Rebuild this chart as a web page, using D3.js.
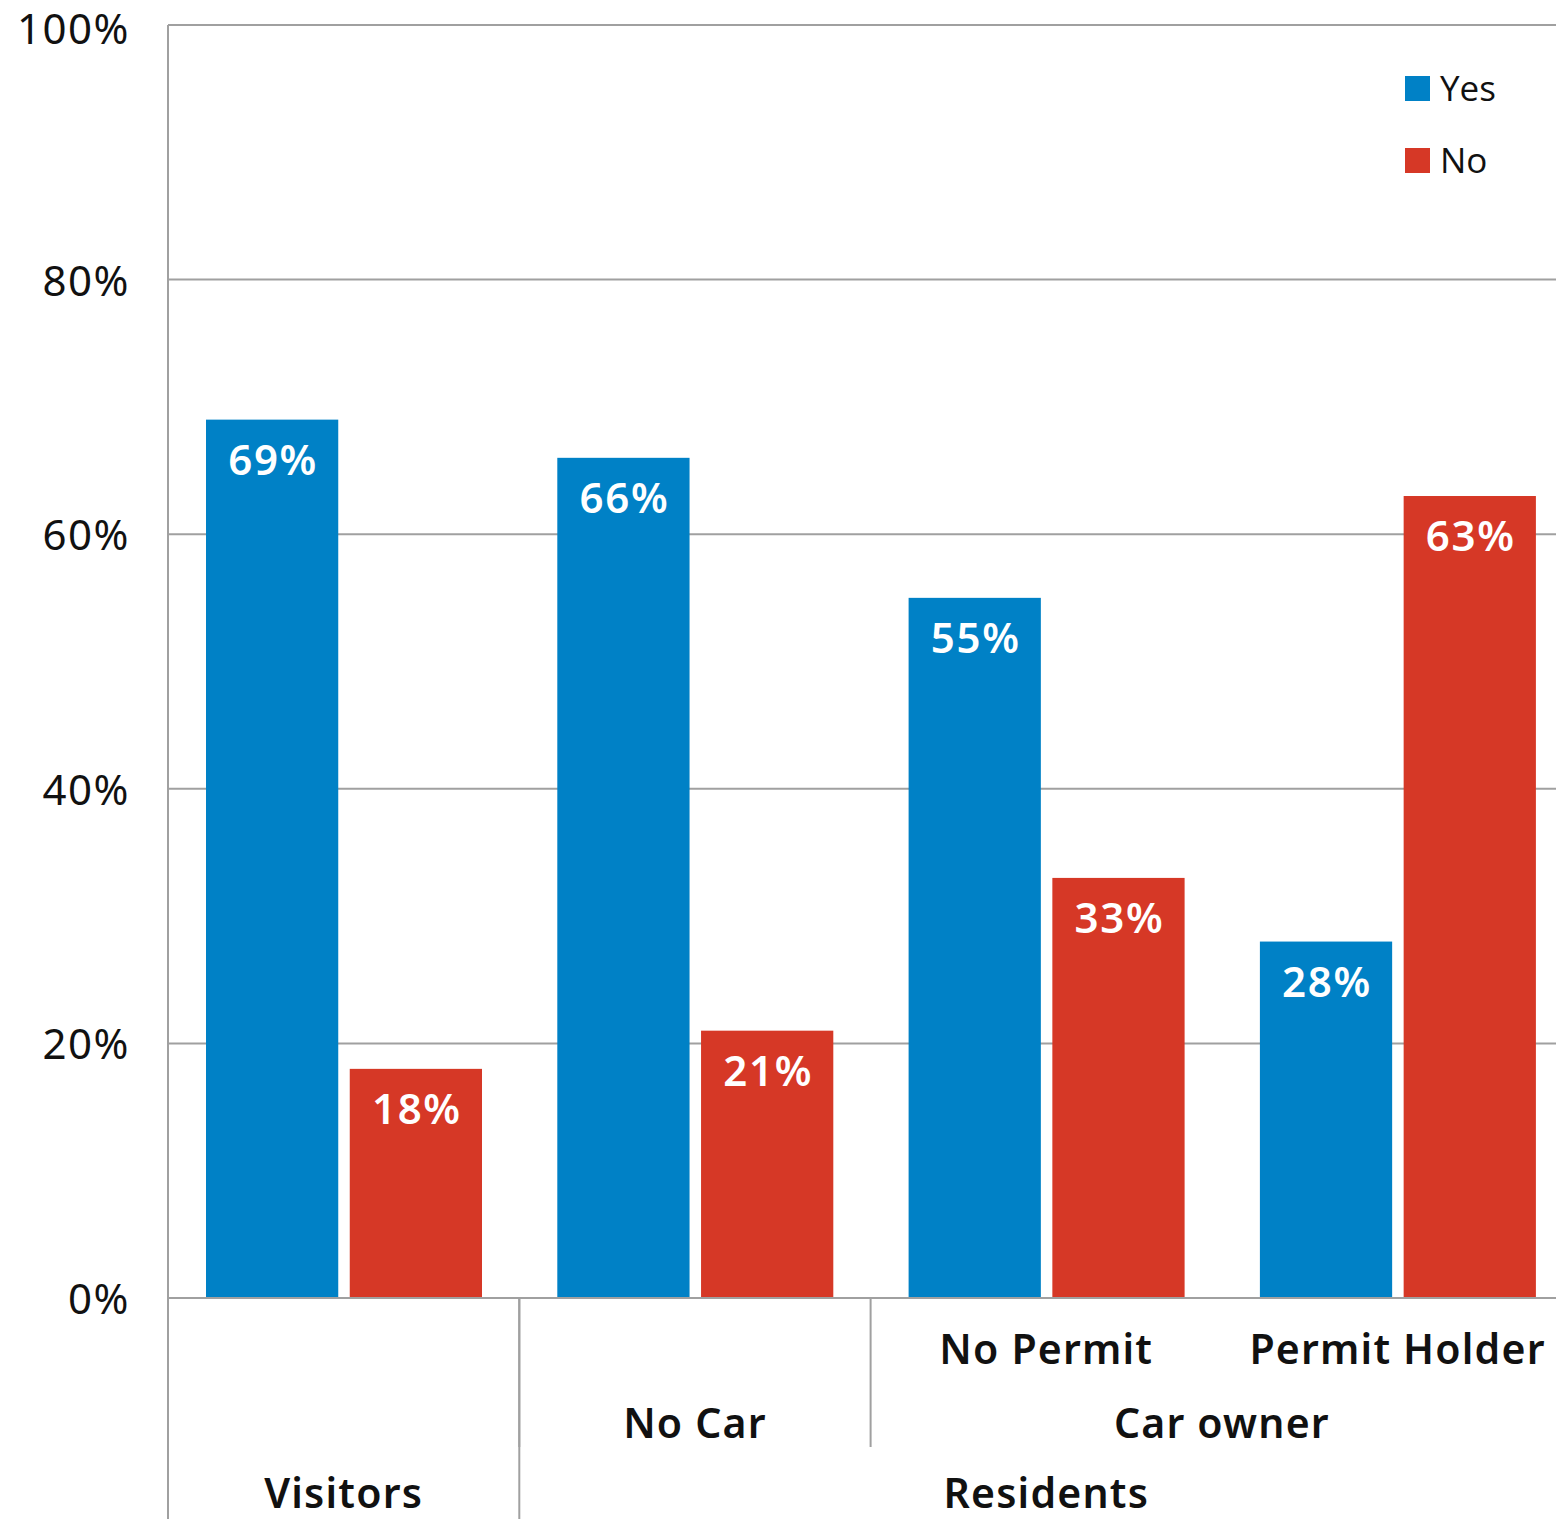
<!DOCTYPE html>
<html>
<head>
<meta charset="utf-8">
<script src="https://cdn.jsdelivr.net/npm/d3@7"></script>
<style>
  body { margin: 0; background: #fff; }
  svg { display: block; }
  .grid line { stroke: #a0a0a0; stroke-width: 2; }
  .tick-label { font-family: "Noto Sans", sans-serif; font-size: 42px; letter-spacing: 1.5px; fill: #111; }
  .bar-label { font-family: "Noto Sans", sans-serif; font-size: 42px; letter-spacing: 1.7px; font-weight: 600; fill: #fff; }
  .cat-label { font-family: "Noto Sans", sans-serif; font-size: 41px; letter-spacing: 1.2px; font-weight: 600; fill: #111; }
  .legend-label { font-family: "Open Sans", sans-serif; font-size: 35px; fill: #111; }
</style>
</head>
<body>
<div id="chart"></div>
<script>
// categories and values (percent)
var groups = ["Visitors", "No Car", "No Permit", "Permit Holder"];
var series = ["Yes", "No"];
var yesValues = [69, 66, 55, 28];
var noValues = [18, 21, 33, 63];
var yTicks = [0, 20, 40, 60, 80, 100];

// hierarchical axis labels, spans are group indexes
var tier1 = [{label: "No Permit", from: 2, to: 2}, {label: "Permit Holder", from: 3, to: 3}];
var tier2 = [{label: "No Car", from: 1, to: 1}, {label: "Car owner", from: 2, to: 3}];
var tier3 = [{label: "Visitors", from: 0, to: 0}, {label: "Residents", from: 1, to: 3}];

var colors = {"Yes": "#0081c6", "No": "#d63826"};

var width = 1556, height = 1519;
var plotLeft = 168, plotTop = 25, plotBottom = 1298;
var groupStep = 351.3;

var svg = d3.select("#chart").append("svg")
    .attr("width", width)
    .attr("height", height);

var x = d3.scaleBand()
    .domain(groups)
    .range([plotLeft, plotLeft + groupStep * groups.length])
    .padding(0);

var xInner = d3.scaleBand()
    .domain(series)
    .range([38, 314])
    .paddingInner(0.08);

var y = d3.scaleLinear()
    .domain([0, 100])
    .range([plotBottom, plotTop]);

// gridlines
var grid = svg.append("g").attr("class", "grid");
grid.selectAll("line")
    .data(yTicks)
    .enter().append("line")
    .attr("x1", plotLeft)
    .attr("x2", width)
    .attr("y1", function(d){ return y(d); })
    .attr("y2", function(d){ return y(d); });

// y tick labels (top one nudged so it stays inside the frame)
svg.append("g").selectAll("text")
    .data(yTicks)
    .enter().append("text")
    .attr("class", "tick-label")
    .attr("x", 130)
    .attr("y", function(d){ return Math.max(y(d) + 16, 44); })
    .attr("text-anchor", "end")
    .text(function(d){ return d + "%"; });

// bars
var rows = groups.map(function(g, i){
    return {group: g, values: [{key: "Yes", value: yesValues[i]}, {key: "No", value: noValues[i]}]};
});

var groupG = svg.append("g").selectAll("g")
    .data(rows)
    .enter().append("g")
    .attr("transform", function(d){ return "translate(" + x(d.group) + ",0)"; });

groupG.selectAll("rect")
    .data(function(d){ return d.values; })
    .enter().append("rect")
    .attr("x", function(d){ return xInner(d.key); })
    .attr("y", function(d){ return y(d.value); })
    .attr("width", xInner.bandwidth())
    .attr("height", function(d){ return y(0) - y(d.value); })
    .attr("fill", function(d){ return colors[d.key]; });

groupG.selectAll("text")
    .data(function(d){ return d.values; })
    .enter().append("text")
    .attr("class", "bar-label")
    .attr("x", function(d){ return xInner(d.key) + xInner.bandwidth() / 2 + 1; })
    .attr("y", function(d){ return y(d.value) + 55; })
    .attr("text-anchor", "middle")
    .text(function(d){ return d.value + "%"; });

// left axis line and category separators
var axisStroke = "#a0a0a0";
svg.append("line")
    .attr("x1", plotLeft).attr("x2", plotLeft)
    .attr("y1", plotTop).attr("y2", height)
    .attr("stroke", axisStroke).attr("stroke-width", 2);

// baseline drawn again on top of bars
svg.append("line")
    .attr("x1", plotLeft).attr("x2", width)
    .attr("y1", plotBottom).attr("y2", plotBottom)
    .attr("stroke", axisStroke).attr("stroke-width", 2);

function spanCenter(s){
    return (x(groups[s.from]) + x(groups[s.to]) + x.bandwidth()) / 2;
}

var tiers = [
    {data: tier1, textY: 1364, lineEnd: 1372},
    {data: tier2, textY: 1438, lineEnd: 1447},
    {data: tier3, textY: 1508, lineEnd: height}
];

tiers.forEach(function(t, ti){
    t.data.forEach(function(s){
        svg.append("text")
            .attr("class", "cat-label")
            .attr("x", spanCenter(s))
            .attr("y", t.textY)
            .attr("text-anchor", "middle")
            .text(s.label);
        // separator at the start of spans for tier 2 and 3
        if (ti > 0 && s.from > 0) {
            var sx = x(groups[s.from]);
            svg.append("line")
                .attr("x1", sx).attr("x2", sx)
                .attr("y1", plotBottom).attr("y2", t.lineEnd)
                .attr("stroke", axisStroke).attr("stroke-width", 2);
        }
    });
});

// legend
var legend = svg.append("g").attr("transform", "translate(1405,76)");
var legendItem = legend.selectAll("g")
    .data(series)
    .enter().append("g")
    .attr("transform", function(d, i){ return "translate(0," + (i * 72) + ")"; });
legendItem.append("rect")
    .attr("width", 25).attr("height", 25)
    .attr("fill", function(d){ return colors[d]; });
legendItem.append("text")
    .attr("class", "legend-label")
    .attr("x", 35)
    .attr("y", 25)
    .text(function(d){ return d; });
</script>
</body>
</html>
